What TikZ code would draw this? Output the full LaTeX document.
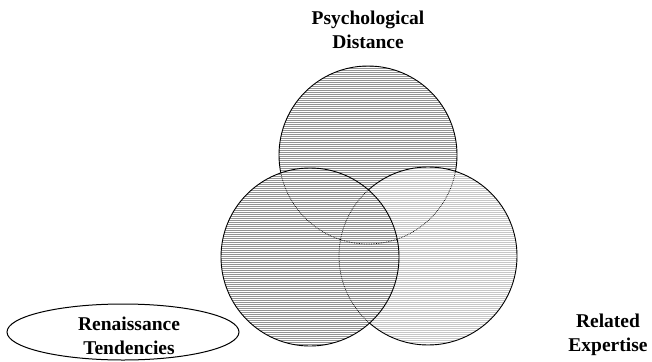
\documentclass[tikz,border=0pt]{standalone}
\usepackage{fontspec}
\setmainfont{Liberation Serif}
\usetikzlibrary{shapes.geometric}
\begin{document}
\begin{tikzpicture}[x=1pt,y=-1pt,
  outline/.style={draw=black,line width=0.9pt},
  hidden/.style={draw=black,line width=0.7pt,densely dotted},
  label/.style={font=\bfseries\fontsize{19.5}{24}\selectfont,align=center,inner sep=0pt}]
\useasboundingbox (0,0) rectangle (652,361);
% circle centres and radius
\def\R{89}
\coordinate (ct) at (368,155);
\coordinate (cl) at (310,257);
\coordinate (cr) at (428,256);
% horizontal hatching inside a circle, on a common 2pt grid: #1 centre x, #2 centre y, #3 colour
\newcommand\hatchdisc[3]{%
  \begin{scope}
    \clip (#1,#2) circle (\R);
    \foreach \k in {30,...,180}
      \draw[#3,line width=1pt] (#1-\R,2*\k+0.5) -- (#1+\R,2*\k+0.5);
  \end{scope}}
\hatchdisc{368}{155}{black!42}
\hatchdisc{428}{256}{black!22}
\hatchdisc{310}{257}{black!42}
% top circle outline: solid where uncovered, dotted beneath the others
\begin{scope}[even odd rule]
  \clip (-10,-10) rectangle (700,400) (cl) circle (\R);
  \clip (-10,-10) rectangle (700,400) (cr) circle (\R);
  \draw[outline] (ct) circle (\R);
\end{scope}
\begin{scope}
  \clip (cl) circle (\R);
  \draw[hidden] (ct) circle (\R);
\end{scope}
\begin{scope}[even odd rule]
  \clip (-10,-10) rectangle (700,400) (cl) circle (\R);
  \clip (cr) circle (\R);
  \draw[hidden] (ct) circle (\R);
\end{scope}
% right circle outline
\begin{scope}[even odd rule]
  \clip (-10,-10) rectangle (700,400) (cl) circle (\R);
  \draw[outline] (cr) circle (\R);
\end{scope}
\begin{scope}
  \clip (cl) circle (\R);
  \draw[hidden] (cr) circle (\R);
\end{scope}
% left circle outline
\draw[outline] (cl) circle (\R);
% labels
\node[label] (psy) at (368,30) {Psychological\\Distance};
\node[label] (rel) at (608,335) {Related\\Expertise};
\node[draw,line width=1pt,ellipse,minimum width=232pt,minimum height=56pt,inner sep=0pt] (renbox) at (123,332) {};
\node[label] (ren) at (129,336) {Renaissance\\Tendencies};
\end{tikzpicture}
\end{document}
